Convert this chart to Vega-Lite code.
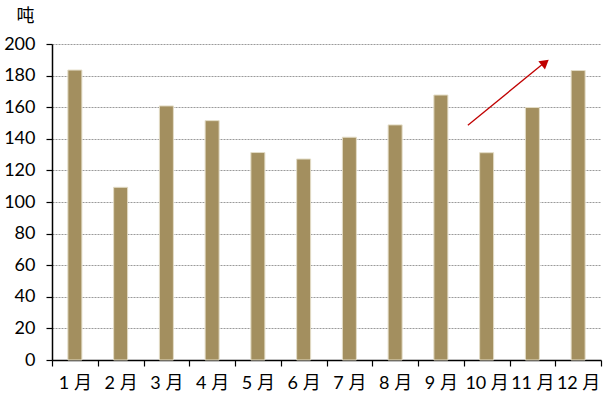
{
  "$schema": "https://vega.github.io/schema/vega-lite/v6.json",
  "width": 549,
  "height": 316,
  "autosize": {"type": "none"},
  "padding": {"left": 52, "top": 44, "right": 14, "bottom": 44},
  "background": "white",
  "config": {
    "view": {"stroke": null},
    "font": "Noto Sans CJK SC"
  },
  "datasets": {
    "bars": [
      {"month": "1月", "value": 183.5},
      {"month": "2月", "value": 109.3},
      {"month": "3月", "value": 160.8},
      {"month": "4月", "value": 151.5},
      {"month": "5月", "value": 131.3},
      {"month": "6月", "value": 127.2},
      {"month": "7月", "value": 141},
      {"month": "8月", "value": 148.8},
      {"month": "9月", "value": 167.7},
      {"month": "10月", "value": 131.2},
      {"month": "11月", "value": 159.8},
      {"month": "12月", "value": 183.2}
    ],
    "arrow": [
      {"x": 9.09, "value": 148.5},
      {"x": 10.72, "value": 187.2}
    ],
    "head": [
      {"x": 10.78, "value": 188.3}
    ]
  },
  "encoding": {
    "y": {
      "field": "value",
      "type": "quantitative",
      "scale": {"domain": [0, 200], "nice": false},
      "axis": {
        "values": [0, 20, 40, 60, 80, 100, 120, 140, 160, 180, 200],
        "labelOverlap": false,
        "title": "吨",
        "titleAngle": 0,
        "titleFontSize": 18,
        "titleFontWeight": "normal",
        "titleColor": "#000",
        "titleX": -27,
        "titleY": -37,
        "titleAlign": "center",
        "titleBaseline": "top",
        "labelFontSize": 18,
        "labelFont": "Lato",
        "labelColor": "#000",
        "labelPadding": 11,
        "domainColor": "#000",
        "domainWidth": 1.5,
        "tickColor": "#000",
        "tickSize": 6,
        "tickWidth": 1.2,
        "grid": true,
        "gridColor": "#9a9a9a",
        "gridDash": [2, 1],
        "gridWidth": 1
      }
    }
  },
  "layer": [
    {
      "data": {"name": "bars"},
      "mark": {"type": "bar", "width": 14, "color": "#A38F5F", "stroke": "#E3DCC6", "strokeWidth": 1},
      "encoding": {
        "x": {
          "field": "month",
          "type": "nominal",
          "sort": null,
          "scale": {"paddingInner": 0, "paddingOuter": 0},
          "axis": {
            "title": null,
            "labelAngle": 0,
            "labelFontSize": 18,
            "labelFont": "Lato, Noto Sans CJK SC",
            "labelExpr": "replace(datum.label, '月', ' 月')",
            "labelColor": "#000",
            "labelPadding": 8,
            "domainColor": "#000",
            "domainWidth": 1.5,
            "tickColor": "#000",
            "tickSize": 6,
            "tickWidth": 1.2,
            "tickBand": "extent",
            "grid": false
          }
        }
      }
    },
    {
      "data": {"name": "arrow"},
      "mark": {"type": "line", "color": "#C00000", "strokeWidth": 1.3},
      "encoding": {
        "x": {"field": "x", "type": "quantitative", "scale": {"domain": [0, 12], "nice": false}, "axis": null}
      }
    },
    {
      "data": {"name": "head"},
      "mark": {"type": "point", "shape": "triangle-up", "filled": true, "color": "#C00000", "opacity": 1, "size": 110, "angle": 51},
      "encoding": {
        "x": {"field": "x", "type": "quantitative", "scale": {"domain": [0, 12], "nice": false}, "axis": null}
      }
    }
  ],
  "resolve": {"scale": {"x": "independent"}}
}
